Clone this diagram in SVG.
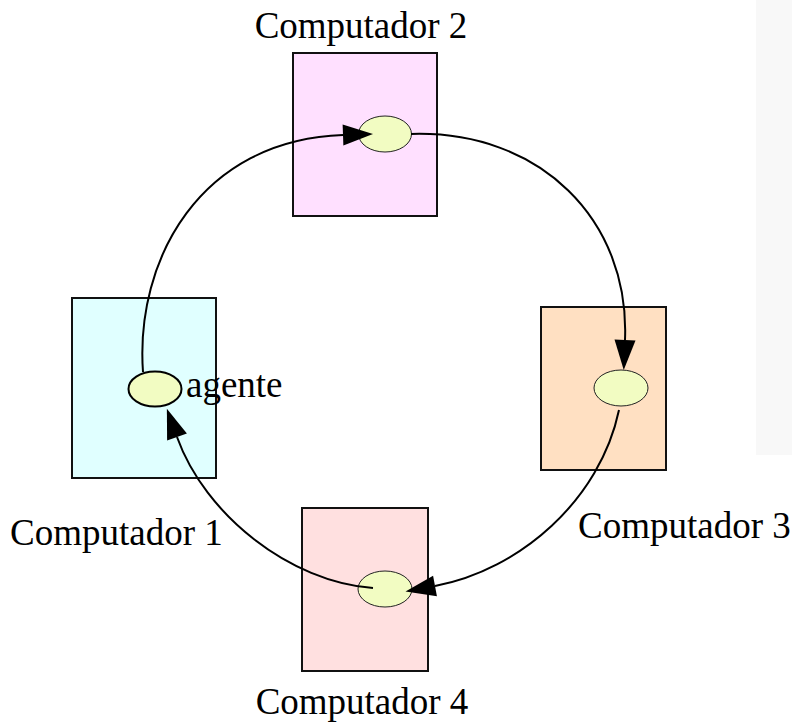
<svg xmlns="http://www.w3.org/2000/svg" width="792" height="724" viewBox="0 0 792 724">
<defs>
<style>
.box{stroke:#111;stroke-width:2}
.el{fill:#f2fcc2;stroke:#222;stroke-width:1}
.lbl{font-family:"Liberation Serif","Times New Roman",serif;font-size:37px;fill:#000}
.edge{fill:none;stroke:#000;stroke-width:2}
</style>
<marker id="ah" markerUnits="userSpaceOnUse" markerWidth="30" markerHeight="22" refX="0" refY="10.5" orient="auto" overflow="visible">
<path d="M0,0 L30,10.5 L0,21 z" fill="#000"/>
</marker>
</defs>
<rect x="756" y="0" width="36" height="455" fill="#f8f8f8"/>
<g id="comp2">
<rect class="box" x="293" y="53" width="144" height="163" fill="#ffe0ff"/>
<ellipse class="el" cx="385" cy="134" rx="26.5" ry="18"/>
<text class="lbl" x="361" y="38" text-anchor="middle">Computador 2</text>
</g>
<g id="comp1">
<rect class="box" x="72" y="298" width="144" height="180" fill="#e0ffff"/>
<ellipse class="el" cx="155" cy="389" rx="26.5" ry="17.5" style="stroke-width:2;stroke:#000"/>
<text class="lbl" x="186" y="397">agente</text>
<text class="lbl" x="10" y="545">Computador 1</text>
</g>
<g id="comp3">
<rect class="box" x="541" y="307" width="125" height="163" fill="#ffe0c2"/>
<ellipse class="el" cx="621" cy="388" rx="27" ry="18"/>
<text class="lbl" x="578" y="538">Computador 3</text>
</g>
<g id="comp4">
<rect class="box" x="302" y="508" width="126" height="163" fill="#ffe0e0"/>
<ellipse class="el" cx="385" cy="589" rx="27" ry="18"/>
<text class="lbl" x="362" y="714" text-anchor="middle">Computador 4</text>
</g>
<g id="connectors">
<path class="edge" marker-end="url(#ah)" d="M143,372 C135,260 200,140 343,135"/>
<path class="edge" marker-end="url(#ah)" d="M411,134 C540,130 630,220 625,340"/>
<path class="edge" marker-end="url(#ah)" d="M619,410 C600,500 520,570 435,586"/>
<path class="edge" marker-end="url(#ah)" d="M373,588 C290,582 205,515 177,437"/>
</g>
</svg>
